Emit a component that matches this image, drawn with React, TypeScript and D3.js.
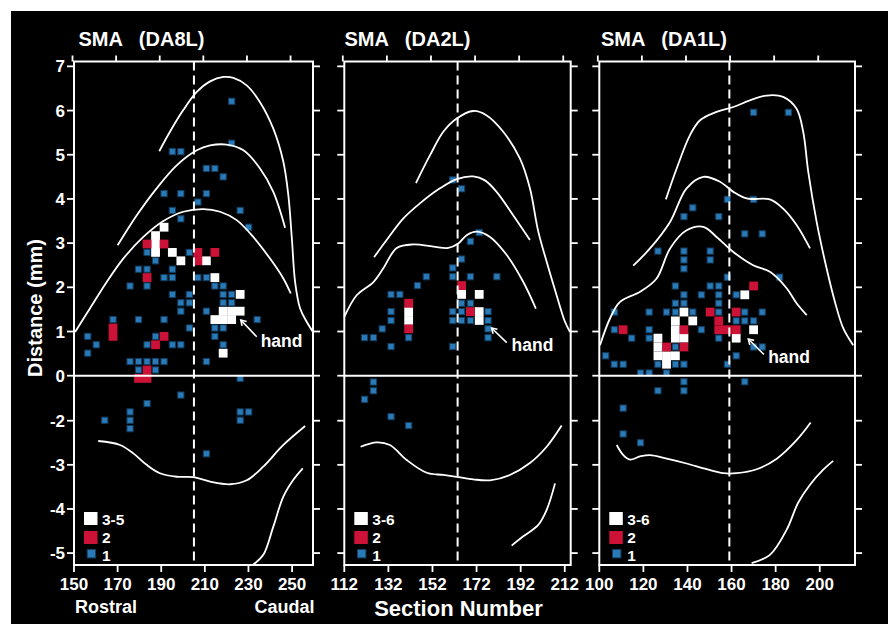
import React from 'react';
import * as d3 from 'd3';

type Pt = [number, number];

// ---- axes / labels ----
const titles = ['SMA   (DA8L)', 'SMA   (DA2L)', 'SMA   (DA1L)'];
const xTicks1 = [150, 170, 190, 210, 230, 250];
const xTicks2 = [112, 132, 152, 172, 192, 212];
const xTicks3 = [100, 120, 140, 160, 180, 200];
const xDomain1: Pt = [150, 259.6];
const xDomain2: Pt = [112, 214.7];
const xDomain3: Pt = [100, 216];
// axis skips -1: piecewise scale, break between 0 and -2
const yTicks = [7, 6, 5, 4, 3, 2, 1, 0, -2, -3, -4, -5];
const yStops = [-5.27, -2, 0, 7.11];
const midSections = [205, 163.4, 159];
const legendLabels = [['3-5', '2', '1'], ['3-6', '2', '1'], ['3-6', '2', '1']];

// ---- DA8L ----
const da8Blue: Pt[] = [
  [222.3, 6.21], [222.3, 5.26], [195.1, 5.07], [199.0, 5.07], [210.7, 4.69], [214.6, 4.69],
  [218.4, 4.5], [191.3, 4.12], [199.0, 4.12], [210.7, 4.12], [206.8, 3.93], [195.1, 3.74],
  [226.2, 3.74], [199.0, 3.55], [230.1, 3.36], [183.5, 2.79], [202.9, 2.79], [187.4, 2.6],
  [179.6, 2.41], [183.5, 2.41], [195.1, 2.41], [191.3, 2.22], [195.1, 2.22], [206.8, 2.22],
  [210.7, 2.22], [175.7, 2.03], [183.5, 2.03], [214.6, 2.03], [218.4, 2.03], [195.1, 1.84],
  [202.9, 1.84], [218.4, 1.84], [222.3, 1.84], [199.0, 1.65], [202.9, 1.65], [218.4, 1.65],
  [222.3, 1.65], [199.0, 1.46], [210.7, 1.46], [167.9, 1.27], [179.6, 1.27], [191.3, 1.27],
  [234.0, 1.27], [202.9, 1.08], [214.6, 1.08], [218.4, 1.08], [156.3, 0.89], [187.4, 0.89],
  [214.6, 0.89], [160.2, 0.7], [183.5, 0.7], [195.1, 0.7], [199.0, 0.7], [218.4, 0.7],
  [156.3, 0.51], [175.7, 0.32], [179.6, 0.32], [183.5, 0.32], [187.4, 0.32], [191.3, 0.32],
  [210.7, 0.32], [179.6, 0.13], [187.4, 0.13], [226.2, -0.12], [199.0, -0.86], [183.5, -1.24],
  [175.7, -1.61], [175.7, -1.98], [175.7, -2.18], [164.1, -1.98], [226.2, -1.61], [230.1, -1.61],
  [226.2, -1.98], [210.7, -2.75],
];
const da8Red: Pt[] = [
  [183.5, 2.98], [191.3, 2.98], [206.8, 2.79], [206.8, 2.6], [214.6, 2.79], [183.5, 2.22],
  [167.9, 1.08], [167.9, 0.89], [191.3, 0.89], [187.4, 0.7], [183.5, 0.13], [179.6, -0.12],
  [183.5, -0.12],
];
const da8White: Pt[] = [
  [191.3, 3.36], [187.4, 3.17], [187.4, 2.98], [187.4, 2.79], [195.1, 2.79], [199.0, 2.6],
  [210.7, 2.6], [214.6, 2.22], [226.2, 1.84], [218.4, 1.46], [222.3, 1.46], [226.2, 1.46],
  [214.6, 1.27], [218.4, 1.27], [222.3, 1.27], [218.4, 0.51],
];
const da8Curves: Pt[][] = [
  [[189.1, 5.08], [194.0, 5.52], [200.1, 6.01], [206.3, 6.42], [212.4, 6.66], [218.5, 6.76],
   [223.1, 6.74], [229.2, 6.57], [235.3, 6.19], [241.4, 5.59], [246.0, 4.84], [248.3, 4.08],
   [249.9, 3.11], [251.4, 2.12], [253.7, 1.52], [256.7, 1.22], [259.6, 0.99]],
  [[170.0, 2.95], [178.8, 3.63], [187.9, 4.24], [197.1, 4.76], [206.3, 5.1], [212.4, 5.21],
   [220.0, 5.23], [227.7, 5.1], [235.3, 4.69], [241.4, 4.16], [246.8, 3.35]],
  [[150.5, 0.99], [157.3, 1.52], [165.0, 2.12], [172.6, 2.65], [181.8, 3.14], [191.0, 3.5],
   [200.1, 3.71], [209.3, 3.77], [217.0, 3.71], [224.6, 3.52], [232.2, 3.14], [239.9, 2.65],
   [246.0, 2.2], [249.4, 1.86]],
  [[161.1, -2.46], [171.1, -2.55], [177.2, -2.74], [183.3, -3.0], [189.4, -3.19], [197.1, -3.27],
   [204.7, -3.28], [212.4, -3.38], [221.6, -3.44], [229.2, -3.35], [236.8, -3.04], [246.0, -2.55],
   [256.0, -2.12]],
  [[232.2, -5.26], [236.8, -5.04], [241.4, -4.4], [246.0, -3.72], [250.6, -3.34], [254.9, -3.08]],
];
const da8Hand = { text: [235.6, 0.66] as Pt, tail: [233.8, 0.88] as Pt, head: [226.5, 1.26] as Pt };

// ---- DA2L ----
const da2Blue: Pt[] = [
  [161.2, 4.43], [165.2, 4.23], [173.2, 3.24], [169.2, 3.04], [165.2, 2.64], [161.2, 2.44],
  [149.2, 2.24], [161.2, 2.24], [169.2, 2.24], [181.2, 2.24], [145.2, 2.04], [133.2, 1.84],
  [137.2, 1.84], [165.2, 1.64], [169.2, 1.64], [133.2, 1.45], [161.2, 1.45], [165.2, 1.45],
  [177.2, 1.45], [133.2, 1.25], [161.2, 1.25], [165.2, 1.25], [169.2, 1.25], [177.2, 1.25],
  [129.2, 1.06], [177.2, 1.06], [121.2, 0.86], [125.2, 0.86], [141.2, 0.86], [177.2, 0.86],
  [133.2, 0.66], [161.2, 0.66], [125.2, -0.28], [125.2, -0.67], [121.2, -1.05], [133.2, -1.82],
  [141.2, -2.11],
];
const da2Red: Pt[] = [[165.2, 2.04], [141.2, 1.64], [141.2, 1.06], [169.2, 1.45]];
const da2White: Pt[] = [
  [165.2, 1.84], [173.2, 1.84], [141.2, 1.45], [141.2, 1.25], [173.2, 1.45], [173.2, 1.25],
];
const da2Curves: Pt[][] = [
  [[144.5, 4.36], [150.9, 4.99], [156.9, 5.52], [163.0, 5.82], [170.5, 5.99], [176.6, 5.89],
   [184.1, 5.52], [191.7, 4.91], [196.2, 4.24], [200.0, 3.26], [203.8, 2.58], [208.3, 1.82],
   [212.1, 1.22], [214.4, 0.99]],
  [[125.5, 2.68], [131.2, 3.07], [138.8, 3.56], [146.3, 3.9], [155.4, 4.24], [163.0, 4.45],
   [170.5, 4.51], [175.8, 4.42], [181.1, 4.16], [188.6, 3.63], [196.2, 3.07]],
  [[112.0, 1.33], [117.6, 1.82], [125.2, 2.12], [129.7, 2.43], [135.8, 2.89], [143.3, 2.97],
   [152.4, 2.92], [159.2, 2.89], [163.7, 2.99], [167.5, 3.18], [172.0, 3.26], [178.1, 3.14],
   [185.7, 2.73], [193.2, 2.12], [198.9, 1.52]],
  [[119.4, -2.59], [126.7, -2.49], [132.7, -2.55], [140.3, -2.89], [149.4, -3.18], [156.9, -3.23],
   [163.7, -3.28], [170.5, -3.33], [178.1, -3.35], [187.1, -3.23], [196.2, -2.96], [203.8, -2.59],
   [210.6, -2.11]],
  [[187.9, -4.83], [193.2, -4.62], [200.0, -4.36], [203.8, -4.02], [207.6, -3.42]],
];
const da2Hand = { text: [187.9, 0.56] as Pt, tail: [185.7, 0.75] as Pt, head: [178.8, 1.08] as Pt };

// ---- DA1L ----
const da1Blue: Pt[] = [
  [170.0, 5.96], [185.8, 5.96], [158.1, 3.99], [170.0, 3.99], [142.4, 3.8], [138.4, 3.6],
  [154.2, 3.6], [166.0, 3.21], [173.9, 3.21], [126.6, 2.82], [138.4, 2.82], [150.3, 2.82],
  [138.4, 2.62], [150.3, 2.62], [138.4, 2.42], [158.1, 2.23], [181.8, 2.23], [134.5, 2.03],
  [150.3, 2.03], [154.2, 2.03], [138.4, 1.83], [146.3, 1.83], [154.2, 1.83], [162.1, 1.83],
  [134.5, 1.64], [138.4, 1.64], [154.2, 1.64], [106.8, 1.44], [122.6, 1.44], [130.5, 1.44],
  [134.5, 1.44], [142.4, 1.44], [154.2, 1.44], [166.0, 1.44], [173.9, 1.44], [162.1, 1.24],
  [166.0, 1.24], [170.0, 1.24], [106.8, 1.04], [122.6, 1.04], [146.3, 1.04], [114.7, 0.85],
  [122.6, 0.85], [154.2, 0.85], [134.5, 0.65], [170.0, 0.65], [173.9, 0.65], [102.9, 0.45],
  [162.1, 0.45], [106.8, 0.26], [110.8, 0.26], [126.6, 0.26], [134.5, 0.26], [138.4, 0.26],
  [158.1, 0.26], [118.7, 0.06], [122.6, 0.06], [130.5, 0.06], [138.4, -0.27], [166.0, -0.27],
  [126.6, -0.67], [138.4, -0.67], [110.8, -1.44], [110.8, -2.3], [118.7, -2.5],
];
const da1Red: Pt[] = [
  [170.0, 2.03], [150.3, 1.44], [162.1, 1.44], [110.8, 1.04], [138.4, 1.04], [154.2, 1.24],
  [154.2, 1.04], [158.1, 1.04], [162.1, 1.04], [130.5, 0.65], [138.4, 0.65],
];
const da1White: Pt[] = [
  [138.4, 1.44], [142.4, 1.24], [134.5, 1.24], [134.5, 1.04], [134.5, 0.85], [138.4, 0.85],
  [126.6, 0.85], [126.6, 0.65], [126.6, 0.45], [130.5, 0.45], [134.5, 0.45], [130.5, 0.26],
  [166.0, 1.83], [170.0, 1.04], [162.1, 0.85],
];
const da1Curves: Pt[][] = [
  [[130.2, 3.99], [135.1, 4.69], [141.1, 5.44], [145.7, 5.78], [153.2, 5.97], [160.8, 6.08],
   [168.3, 6.23], [175.9, 6.34], [183.4, 6.31], [189.5, 6.04], [192.5, 5.52], [194.8, 4.61],
   [198.6, 3.48], [203.1, 2.43], [206.9, 1.67], [210.7, 1.07], [215.2, 0.69]],
  [[115.4, 2.49], [123.0, 2.88], [132.1, 3.48], [139.6, 4.24], [147.2, 4.5], [154.7, 4.39],
   [160.8, 4.16], [166.8, 4.01], [177.4, 3.99], [183.4, 3.78], [189.5, 3.41], [195.6, 2.88]],
  [[100.3, 0.69], [104.9, 1.3], [109.4, 1.67], [118.5, 1.9], [126.0, 2.2], [132.1, 2.88],
   [139.6, 3.29], [147.2, 3.37], [153.2, 3.14], [160.8, 2.8], [169.8, 2.5], [177.4, 2.35],
   [185.0, 1.98], [189.5, 1.64], [194.1, 1.37]],
  [[107.9, -2.55], [110.9, -2.78], [113.9, -2.88], [118.5, -2.81], [123.0, -2.78], [130.6, -2.86],
   [139.6, -2.97], [148.7, -3.1], [156.2, -3.19], [162.3, -3.19], [171.4, -3.1], [180.5, -2.86],
   [189.5, -2.44], [195.9, -2.04]],
  [[169.1, -5.23], [177.4, -5.04], [185.0, -4.47], [190.2, -3.86], [195.6, -3.45], [201.6, -3.11],
   [206.1, -2.91]],
];
const da1Hand = { text: [176.6, 0.28] as Pt, tail: [174.7, 0.48] as Pt, head: [167.6, 0.83] as Pt };

// ---- layout ----
const W = 891;
const H = 624;
const TOP = 61.5;
const BOTTOM = 565;
const panelLeft = [74, 344.3, 599.3];
const panelRight = [313, 570.7, 855];
const titleX = [78.5, 344.5, 601];
const FONT = "'Liberation Sans', Arial, Helvetica, sans-serif";
const BLUE = '#2a7ab8';
const BLUE_EDGE = '#123e60';
const RED = '#cc1236';

const panels = [
  { xTicks: xTicks1, xDomain: xDomain1, blue: da8Blue, red: da8Red, white: da8White, curves: da8Curves, hand: da8Hand },
  { xTicks: xTicks2, xDomain: xDomain2, blue: da2Blue, red: da2Red, white: da2White, curves: da2Curves, hand: da2Hand },
  { xTicks: xTicks3, xDomain: xDomain3, blue: da1Blue, red: da1Red, white: da1White, curves: da1Curves, hand: da1Hand },
];

const y = d3.scaleLinear().domain(yStops).range([BOTTOM, 420.7, 375.7, TOP]);

function Panel({ i }: { i: number }) {
  const p = panels[i];
  const x0 = panelLeft[i];
  const x1 = panelRight[i];
  const x = d3.scaleLinear().domain(p.xDomain).range([x0, x1]);
  const line = d3.line<Pt>().x(d => x(d[0])).y(d => y(d[1])).curve(d3.curveCatmullRom.alpha(0.5));
  const CELL = 8.8;
  const BS = 6.2;

  const { text, tail, head } = p.hand;
  const hx = x(head[0]), hy = y(head[1]), tx = x(tail[0]), ty = y(tail[1]);
  const ang = Math.atan2(hy - ty, hx - tx);
  const hl = 6;
  const arrowHead = `M${hx - hl * Math.cos(ang - 0.55)},${hy - hl * Math.sin(ang - 0.55)}L${hx},${hy}L${hx - hl * Math.cos(ang + 0.55)},${hy - hl * Math.sin(ang + 0.55)}`;

  const lg = legendLabels[i];
  return (
    <g fontFamily={FONT} fontWeight="bold" fill="#fff">
      <text x={titleX[i]} y={45.5} fontSize={20} style={{ whiteSpace: 'pre' }}>{titles[i]}</text>

      {/* cells */}
      {p.white.map((d, k) => (
        <rect key={'w' + k} x={x(d[0]) - CELL / 2} y={y(d[1]) - CELL / 2} width={CELL} height={CELL} fill="#fff" />
      ))}
      {p.red.map((d, k) => (
        <rect key={'r' + k} x={x(d[0]) - CELL / 2} y={y(d[1]) - CELL / 2} width={CELL} height={CELL} fill={RED} />
      ))}
      {p.blue.map((d, k) => (
        <rect key={'b' + k} x={x(d[0]) - BS / 2} y={y(d[1]) - BS / 2} width={BS} height={BS}
          fill={BLUE} stroke={BLUE_EDGE} strokeWidth={1} />
      ))}

      {/* zero line + midline */}
      <line x1={x0} x2={x1} y1={y(0)} y2={y(0)} stroke="#fff" strokeWidth={2} />
      <line x1={x(midSections[i])} x2={x(midSections[i])} y1={TOP} y2={BOTTOM} stroke="#fff"
        strokeWidth={2} strokeDasharray="9,5" />

      {/* contour curves */}
      {p.curves.map((c, k) => (
        <path key={'c' + k} d={line(c) || ''} fill="none" stroke="#fff" strokeWidth={1.8} />
      ))}

      {/* frame and ticks */}
      <rect x={x0} y={TOP} width={x1 - x0} height={BOTTOM - TOP} fill="none" stroke="#fff" strokeWidth={2} />
      {p.xTicks.map(t => (
        <g key={'xt' + t}>
          <line x1={x(t)} x2={x(t)} y1={BOTTOM} y2={BOTTOM + 7} stroke="#fff" strokeWidth={1.8} />
          <line x1={x(t) - 1.5} x2={x(t) - 1.5} y1={TOP} y2={TOP - 6} stroke="#fff" strokeWidth={1.8} />
          <text x={x(t)} y={589.5} fontSize={17} textAnchor="middle">{t}</text>
        </g>
      ))}
      {yTicks.map(t => (
        <g key={'yt' + t}>
          <line x1={x0 - 7} x2={x0} y1={y(t)} y2={y(t)} stroke="#fff" strokeWidth={1.8} />
          <line x1={x1} x2={x1 + 7} y1={y(t)} y2={y(t)} stroke="#fff" strokeWidth={1.8} />
          {i === 0 && (
            <text x={65} y={y(t) + 6} fontSize={17} textAnchor="end">{t}</text>
          )}
        </g>
      ))}

      {/* legend */}
      <rect x={x0 + 10} y={512} width={13.5} height={13} fill="#fff" />
      <rect x={x0 + 10} y={531} width={13.5} height={13} fill={RED} />
      <rect x={x0 + 13.2} y={549.5} width={8.4} height={8.4} fill={BLUE} stroke={BLUE_EDGE} strokeWidth={1} />
      <text x={x0 + 28} y={524.5} fontSize={15.5}>{lg[0]}</text>
      <text x={x0 + 28} y={542.5} fontSize={15.5}>{lg[1]}</text>
      <text x={x0 + 28} y={560.5} fontSize={15.5}>{lg[2]}</text>

      {/* hand annotation */}
      <line x1={tx} y1={ty} x2={hx} y2={hy} stroke="#fff" strokeWidth={1.6} />
      <path d={arrowHead} fill="none" stroke="#fff" strokeWidth={1.6} />
      <text x={x(text[0])} y={y(text[1])} fontSize={17.5}>hand</text>
    </g>
  );
}

export default function App() {
  return (
    <div style={{ position: 'absolute', left: 0, top: 0 }}>
      <svg width={W} height={H} style={{ display: 'block' }}>
        <rect x={0} y={0} width={W} height={H} fill="#fff" />
        <rect x={11} y={11} width={877} height={613} fill="#000" />
        {panels.map((_, i) => <Panel key={i} i={i} />)}
        <g fontFamily={FONT} fontWeight="bold" fill="#fff">
          <text transform="translate(41.5,308) rotate(-90)" fontSize={20} textAnchor="middle">Distance (mm)</text>
          <text x={458.5} y={615.5} fontSize={22} textAnchor="middle">Section Number</text>
          <text x={75} y={612.5} fontSize={18}>Rostral</text>
          <text x={314.5} y={612.5} fontSize={18} textAnchor="end">Caudal</text>
        </g>
      </svg>
    </div>
  );
}
